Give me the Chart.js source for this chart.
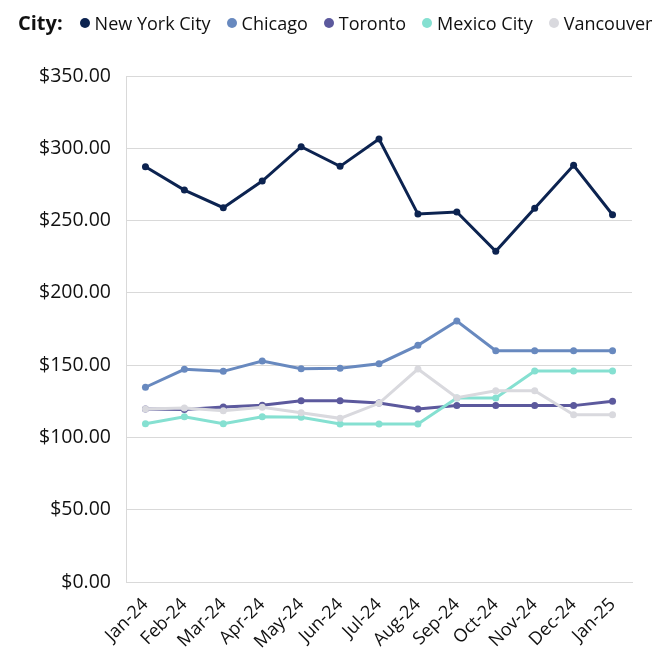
<!DOCTYPE html>
<html>
<head>
<meta charset="utf-8">
<script src="https://cdn.jsdelivr.net/npm/chart.js@4.4.1/dist/chart.umd.min.js"></script>
<style>
  html, body { margin: 0; padding: 0; background: #fff; }
  #wrap { position: relative; width: 670px; height: 670px; }
  #legend {
    position: absolute; top: 9px; left: 18px;
    display: flex; align-items: center;
    font-family: "Open Sans", sans-serif; font-size: 18px; color: #111;
  }
  #legend .title { font-weight: bold; font-size: 20px; margin-right: 17px; }
  #legend .item { display: flex; align-items: center; margin-right: 16px; }
  #legend .dot { width: 10px; height: 10px; border-radius: 50%; margin-right: 5px; }
</style>
</head>
<body>
<div id="wrap">
  <div id="legend"><span class="title">City:</span></div>
  <canvas id="chart" width="670" height="670"></canvas>
</div>
<script>
const months = ['Jan-24','Feb-24','Mar-24','Apr-24','May-24','Jun-24','Jul-24','Aug-24','Sep-24','Oct-24','Nov-24','Dec-24','Jan-25']

const cities = ['New York City','Chicago','Toronto','Mexico City','Vancouver']
const colors = ['#0c2350','#6889bf','#5c599d','#85e0d1','#d9d9de']

const newYork  = [287.2, 271.1, 258.9, 277.3, 301.1, 287.5, 306.4, 254.5, 255.9, 228.7, 258.5, 288.2, 254.0]
const chicago  = [134.7, 147.1, 145.7, 152.8, 147.5, 147.8, 151.0, 163.7, 180.5, 160.0, 160.0, 160.0, 160.0]
const toronto  = [119.6, 119.4, 121.0, 122.2, 125.4, 125.4, 123.8, 119.6, 122.0, 122.0, 122.0, 122.0, 125.0]
const mexico   = [109.5, 114.3, 109.5, 114.3, 113.9, 109.3, 109.3, 109.3, 127.3, 127.3, 145.9, 145.9, 145.9]
const vancouver= [119.6, 120.3, 118.5, 120.8, 117.1, 113.2, 123.6, 147.3, 127.5, 132.3, 132.3, 115.7, 115.7]

const series = [newYork, chicago, toronto, mexico, vancouver]

let datasets = series.map((vals, i) => ({
    label: cities[i],
    data: vals,
    borderColor: colors[i],
    backgroundColor: colors[i],
    borderWidth: 3,
    pointRadius: 3.5,
    pointBorderWidth: 0,
    tension: 0,
    order: series.length - i   // later cities drawn on top
}))

// html legend
const legendBox = document.getElementById('legend')
cities.forEach((name, i) => {
    let item = document.createElement('span')
    item.className = 'item'
    item.innerHTML = `<span class="dot" style="background:${colors[i]}"></span>${name}`
    legendBox.appendChild(item)
})

const ctx = document.getElementById('chart').getContext('2d')
const chart = new Chart(ctx, {
    type: 'line',
    data: { labels: months, datasets: datasets },
    options: {
        responsive: false,
        animation: false,
        layout: { padding: { top: 76, right: 38, left: 0, bottom: 0 } },
        plugins: {
            legend: { display: false },
            tooltip: { enabled: false }
        },
        scales: {
            x: {
                offset: true,
                grid: { display: false },
                border: { color: '#d9d9d9', width: 1 },
                ticks: {
                    color: '#111',
                    font: { family: 'Open Sans', size: 18 },
                    minRotation: 45,
                    maxRotation: 45,
                    padding: 4
                },
                afterFit: scale => { scale.height = 88 }
            },
            y: {
                min: 0,
                max: 350,
                grid: { color: '#d9d9d9', drawTicks: false },
                border: { color: '#d9d9d9', width: 1 },
                ticks: {
                    stepSize: 50,
                    color: '#111',
                    padding: 15,
                    font: { family: 'Open Sans', size: 19.5 },
                    callback: v => '$' + v.toFixed(2)
                },
                afterFit: scale => { scale.width = 126 }
            }
        }
    }
})
</script>
</body>
</html>
